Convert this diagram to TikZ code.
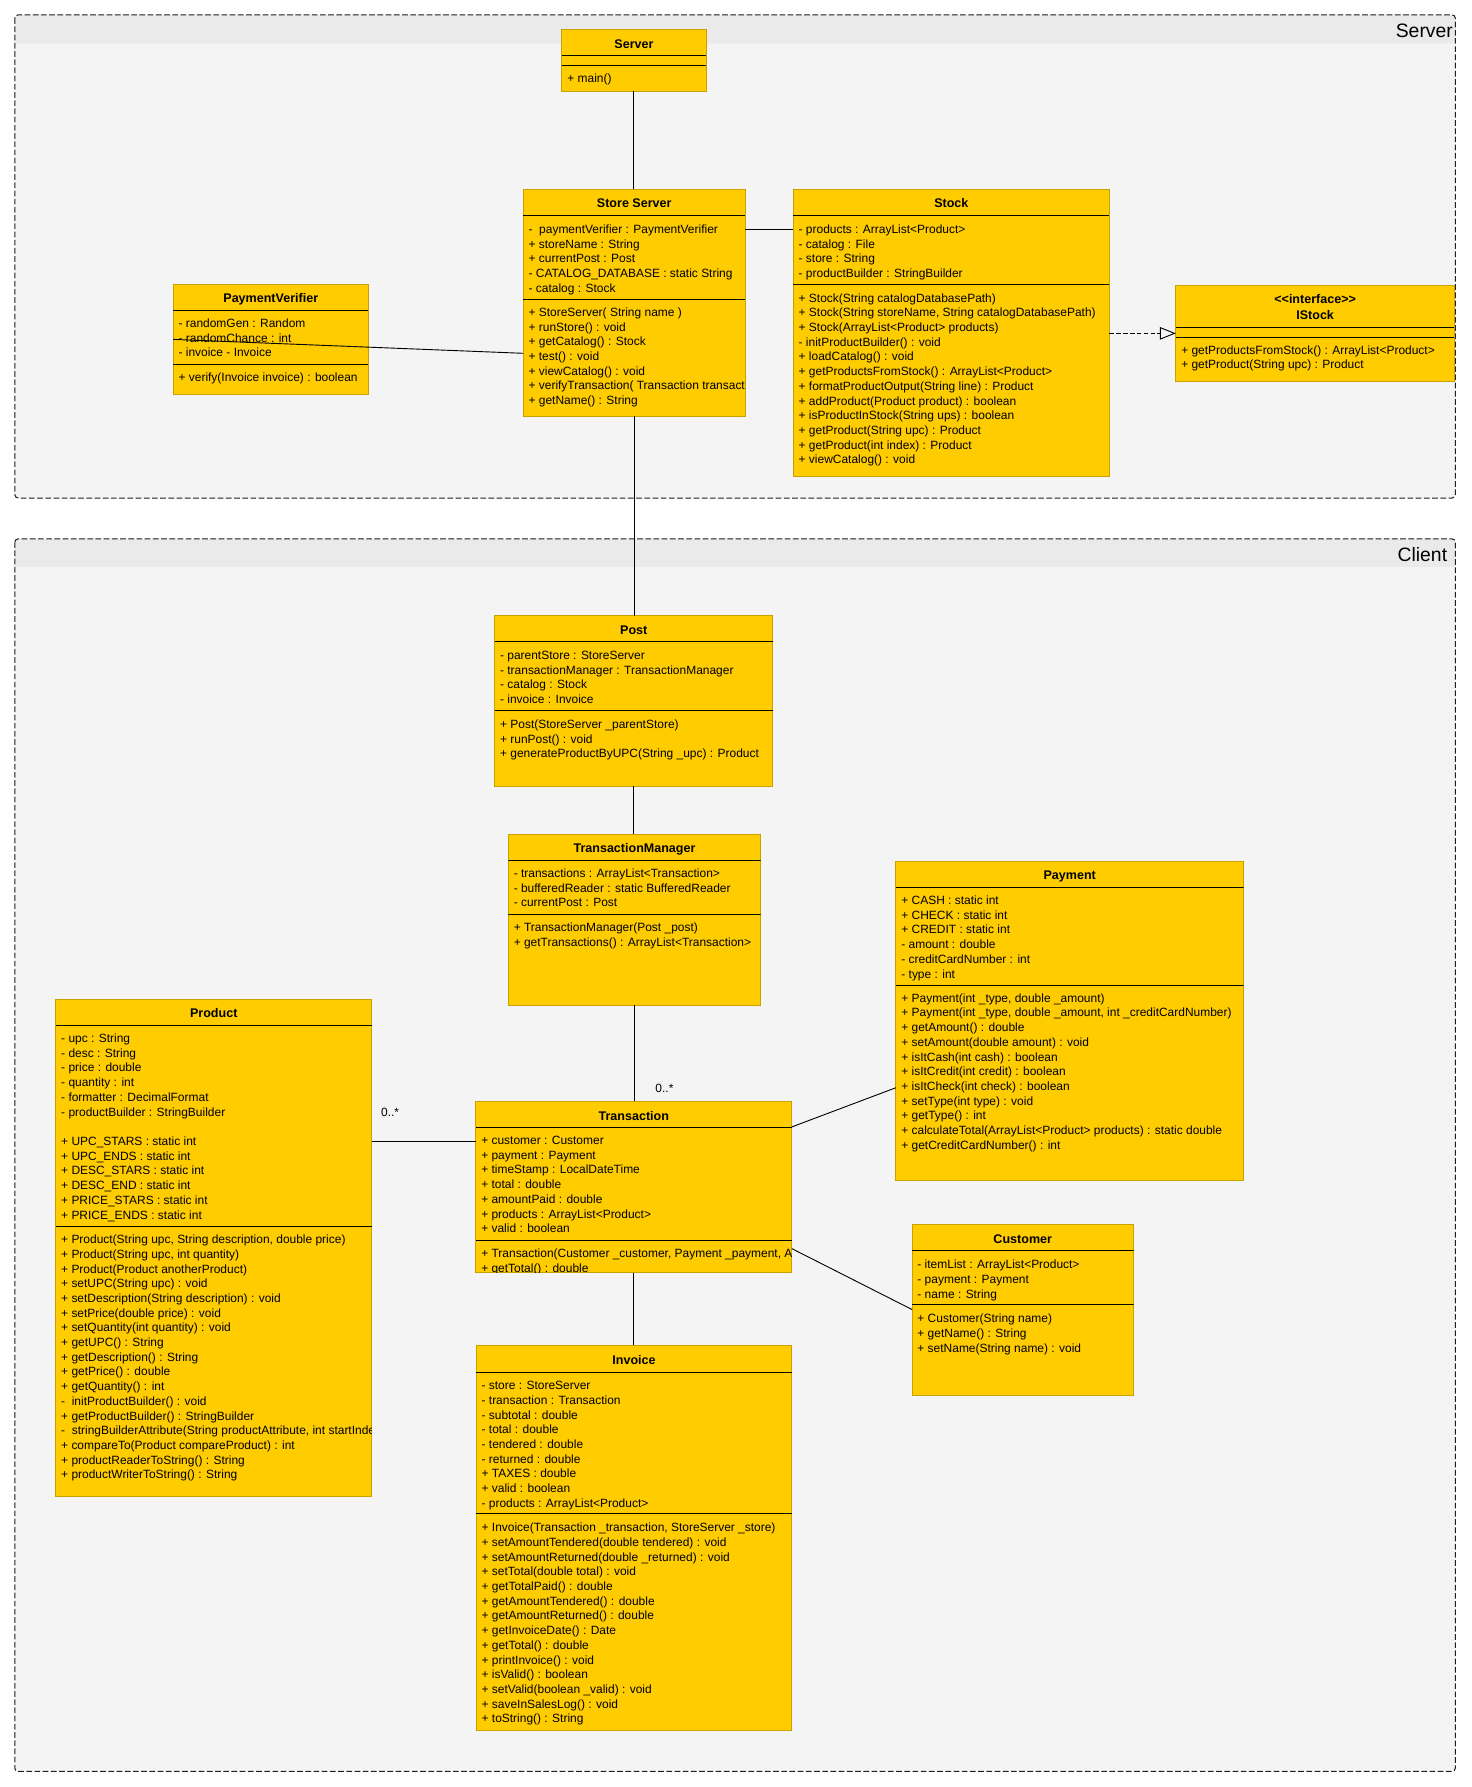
\documentclass[tikz,border=0pt]{standalone}
\usepackage{fontspec}
\setmainfont{Liberation Sans}
\usetikzlibrary{arrows.meta,calc}

\definecolor{boxfill}{HTML}{FFCC00}
\definecolor{boxedge}{HTML}{C9A200}
\definecolor{pkgfill}{HTML}{F4F4F4}
\definecolor{pkghead}{HTML}{EAEAEA}
\definecolor{pkgedge}{HTML}{1E1E1E}

\tikzset{
  classbox/.style={anchor=north west, fill=boxfill, draw=boxedge, line width=0.8pt, inner sep=0pt, outer sep=0pt},
  sepline/.style={draw=black, line width=0.9pt},
  rowtext/.style={anchor=base west, inner sep=0pt, xshift=4.6pt, yshift=-3.8pt, font=\fontsize{10.5}{12.9}\selectfont},
  titletext/.style={anchor=base, inner sep=0pt, yshift=-3.95pt, font=\fontsize{11}{13}\selectfont\bfseries},
  pkglabel/.style={anchor=east, inner sep=0pt, font=\fontsize{17}{20}\selectfont},
  package/.style={anchor=north west, inner sep=0pt, outer sep=0pt, fill=pkgfill, rounded corners=3pt},
  pkgframe/.style={draw=pkgedge, line width=0.9pt, dash pattern=on 5pt off 2.2pt, rounded corners=3pt},
  assoc/.style={draw=black, line width=0.8pt},
  realize/.style={draw=black, line width=0.8pt, dash pattern=on 4pt off 2pt, -{Triangle[open, length=14pt, width=11pt]}},
  mult/.style={inner sep=0pt, anchor=center, font=\fontsize{10.5}{12}\selectfont},
}

% class rectangle: name, left, top, width, height
\newcommand\umlbox[5]{\node[classbox, minimum width=#4pt, minimum height=#5pt] (#1) at (#2,#3) {};}
% compartment separator of a class at a given height
\newcommand\umlsep[2]{\draw[sepline] (#1.west |- 0,#2) -- (#1.east |- 0,#2);}
% centred bold title of a class
\newcommand\umltitle[3]{\node[titletext] at (#1.north |- 0,#2) {#3};}
% rows of a compartment: name, centre of first row, list of rows
\newcommand\umlrows[3]{%
  \foreach \rtext [count=\i from 0] in {#3}{%
    \pgfmathsetmacro\rowy{#2+\i*12.9}%
    \node[rowtext] at (#1.west |- 0,\rowy) {\rtext};}}
\newcommand\clipto[1]{\clip (#1.south west) rectangle (#1.north east);}

\begin{document}
\begin{tikzpicture}[x=1pt, y=-1pt]
\fill[white] (0,0) rectangle (1291,1568);
\useasboundingbox (0,0) rectangle (1291,1568);

% ---------- packages ----------
\node[package, minimum width=1264pt, minimum height=424pt] (serverpkg) at (13,13) {};
\fill[pkghead] (13,38) {[rounded corners=3pt] -- (13,13) -- (1277,13)} -- (1277,38) -- cycle;
\draw[pkgframe] (serverpkg.north west) rectangle (serverpkg.south east);
\node[pkglabel] (serverlbl) at (1275,27.2) {Server};

\node[package, minimum width=1264pt, minimum height=1081.5pt] (clientpkg) at (13,472.8) {};
\fill[pkghead] (13,497.3) {[rounded corners=3pt] -- (13,472.8) -- (1277,472.8)} -- (1277,497.3) -- cycle;
\draw[pkgframe] (clientpkg.north west) rectangle (clientpkg.south east);
\node[pkglabel] (clientlbl) at (1270,486.5) {Client};

% ---------- Server ----------
\umlbox{server}{493}{25.7}{126.5}{54.5}
\begin{scope}\clipto{server}
  \umltitle{server}{38.3}{Server}
  \umlsep{server}{48.9}\umlsep{server}{57.3}
  \umlrows{server}{68.7}{{+ main()}}
\end{scope}

% ---------- Store Server ----------
\umlbox{ss}{459}{166}{195}{199}
\begin{scope}\clipto{ss}
  \umltitle{ss}{178.5}{Store Server}
  \umlsep{ss}{188.7}\umlsep{ss}{262.7}
  \umlrows{ss}{201}{{-\ \ paymentVerifier : PaymentVerifier},{+ storeName : String},{+ currentPost : Post},{- CATALOG\_DATABASE : static String},{- catalog : Stock}}
  \umlrows{ss}{273.8}{{+ StoreServer( String name )},{+ runStore() : void},{+ getCatalog() : Stock},{+ test() : void},{+ viewCatalog() : void},{+ verifyTransaction( Transaction transact},{+ getName() : String}}
\end{scope}

% ---------- Stock ----------
\umlbox{stock}{696}{166}{277.5}{252}
\begin{scope}\clipto{stock}
  \umltitle{stock}{178.3}{Stock}
  \umlsep{stock}{189}\umlsep{stock}{249.5}
  \umlrows{stock}{201}{{- products : ArrayList<Product>},{- catalog : File},{- store : String},{- productBuilder : StringBuilder}}
  \umlrows{stock}{261.3}{{+ Stock(String catalogDatabasePath)},{+ Stock(String storeName, String catalogDatabasePath)},{+ Stock(ArrayList<Product> products)},{- initProductBuilder() : void},{+ loadCatalog() : void},{+ getProductsFromStock() : ArrayList<Product>},{+ formatProductOutput(String line) : Product},{+ addProduct(Product product) : boolean},{+ isProductInStock(String ups) : boolean},{+ getProduct(String upc) : Product},{+ getProduct(int index) : Product},{+ viewCatalog() : void}}
\end{scope}

% ---------- IStock ----------
\umlbox{istock}{1031.7}{250.7}{244.5}{83.7}
\begin{scope}\clipto{istock}
  \umltitle{istock}{262.7}{<{}<interface>{}>}
  \umltitle{istock}{276.7}{IStock}
  \umlsep{istock}{287.6}\umlsep{istock}{296}
  \umlrows{istock}{307}{{+ getProductsFromStock() : ArrayList<Product>},{+ getProduct(String upc) : Product}}
\end{scope}

% ---------- PaymentVerifier ----------
\umlbox{pv}{151.9}{249.5}{171.4}{96.5}
\begin{scope}\clipto{pv}
  \umltitle{pv}{261.3}{PaymentVerifier}
  \umlsep{pv}{272.4}\umlsep{pv}{319.8}
  \umlrows{pv}{283.5}{{- randomGen : Random},{- randomChance : int},{- invoice - Invoice}}
  \umlrows{pv}{330.9}{{+ verify(Invoice invoice) : boolean}}
\end{scope}

% ---------- Post ----------
\umlbox{post}{434}{540.3}{244.2}{149.5}
\begin{scope}\clipto{post}
  \umltitle{post}{552.6}{Post}
  \umlsep{post}{563.2}\umlsep{post}{623.4}
  \umlrows{post}{574.9}{{- parentStore : StoreServer},{- transactionManager : TransactionManager},{- catalog : Stock},{- invoice : Invoice}}
  \umlrows{post}{635.4}{{+ Post(StoreServer \_parentStore)},{+ runPost() : void},{+ generateProductByUPC(String \_upc) : Product}}
\end{scope}

% ---------- TransactionManager ----------
\umlbox{tm}{446}{732.2}{221.5}{149.8}
\begin{scope}\clipto{tm}
  \umltitle{tm}{744}{TransactionManager}
  \umlsep{tm}{755}\umlsep{tm}{802.8}
  \umlrows{tm}{766.2}{{- transactions : ArrayList<Transaction>},{- bufferedReader : static BufferedReader},{- currentPost : Post}}
  \umlrows{tm}{813.6}{{+ TransactionManager(Post \_post)},{+ getTransactions() : ArrayList<Transaction>}}
\end{scope}

% ---------- Payment ----------
\umlbox{pay}{786.1}{755.7}{305.1}{279.9}
\begin{scope}\clipto{pay}
  \umltitle{pay}{768}{Payment}
  \umlsep{pay}{778.8}\umlsep{pay}{864.8}
  \umlrows{pay}{789.9}{{+ CASH : static int},{+ CHECK : static int},{+ CREDIT : static int},{- amount : double},{- creditCardNumber : int},{- type : int}}
  \umlrows{pay}{875.6}{{+ Payment(int \_type, double \_amount)},{+ Payment(int \_type, double \_amount, int \_creditCardNumber)},{+ getAmount() : double},{+ setAmount(double amount) : void},{+ isItCash(int cash) : boolean},{+ isItCredit(int credit) : boolean},{+ isItCheck(int check) : boolean},{+ setType(int type) : void},{+ getType() : int},{+ calculateTotal(ArrayList<Product> products) : static double},{+ getCreditCardNumber() : int}}
\end{scope}

% ---------- Product ----------
\umlbox{product}{48.9}{877}{277.3}{436}
\begin{scope}\clipto{product}
  \umltitle{product}{888.5}{Product}
  \umlsep{product}{899.9}\umlsep{product}{1076.6}
  \umlrows{product}{911}{{- upc : String},{- desc : String},{- price : double},{- quantity : int},{- formatter : DecimalFormat},{- productBuilder : StringBuilder},{},{+ UPC\_STARS : static int},{+ UPC\_ENDS : static int},{+ DESC\_STARS : static int},{+ DESC\_END : static int},{+ PRICE\_STARS : static int},{+ PRICE\_ENDS : static int}}
  \umlrows{product}{1087.4}{{+ Product(String upc, String description, double price)},{+ Product(String upc, int quantity)},{+ Product(Product anotherProduct)},{+ setUPC(String upc) : void},{+ setDescription(String description) : void},{+ setPrice(double price) : void},{+ setQuantity(int quantity) : void},{+ getUPC() : String},{+ getDescription() : String},{+ getPrice() : double},{+ getQuantity() : int},{-\ \ initProductBuilder() : void},{+ getProductBuilder() : StringBuilder},{-\ \ stringBuilderAttribute(String productAttribute, int startInde},{+ compareTo(Product compareProduct) : int},{+ productReaderToString() : String},{+ productWriterToString() : String}}
\end{scope}

% ---------- Transaction ----------
\umlbox{tr}{417.5}{966.3}{277.3}{150.4}
\begin{scope}\clipto{tr}
  \umltitle{tr}{978.9}{Transaction}
  \umlsep{tr}{989.1}\umlsep{tr}{1088.6}
  \umlrows{tr}{1000.5}{{+ customer : Customer},{+ payment : Payment},{+ timeStamp : LocalDateTime},{+ total : double},{+ amountPaid : double},{+ products : ArrayList<Product>},{+ valid : boolean}}
  \umlrows{tr}{1099.7}{{+ Transaction(Customer \_customer, Payment \_payment, A},{+ getTotal() : double}}
\end{scope}

% ---------- Customer ----------
\umlbox{cust}{800.2}{1074.5}{194.4}{149.8}
\begin{scope}\clipto{cust}
  \umltitle{cust}{1087.1}{Customer}
  \umlsep{cust}{1097.6}\umlsep{cust}{1144.8}
  \umlrows{cust}{1109.4}{{- itemList : ArrayList<Product>},{- payment : Payment},{- name : String}}
  \umlrows{cust}{1156.8}{{+ Customer(String name)},{+ getName() : String},{+ setName(String name) : void}}
\end{scope}

% ---------- Invoice ----------
\umlbox{inv}{417.8}{1180.4}{277}{338}
\begin{scope}\clipto{inv}
  \umltitle{inv}{1193.3}{Invoice}
  \umlsep{inv}{1203.9}\umlsep{inv}{1328.2}
  \umlrows{inv}{1215.6}{{- store : StoreServer},{- transaction : Transaction},{- subtotal : double},{- total : double},{- tendered : double},{- returned : double},{+ TAXES : double},{+ valid : boolean},{- products : ArrayList<Product>}}
  \umlrows{inv}{1340.2}{{+ Invoice(Transaction \_transaction, StoreServer \_store)},{+ setAmountTendered(double tendered) : void},{+ setAmountReturned(double \_returned) : void},{+ setTotal(double total) : void},{+ getTotalPaid() : double},{+ getAmountTendered() : double},{+ getAmountReturned() : double},{+ getInvoiceDate() : Date},{+ getTotal() : double},{+ printInvoice() : void},{+ isValid() : boolean},{+ setValid(boolean \_valid) : void},{+ saveInSalesLog() : void},{+ toString() : String}}
\end{scope}

% ---------- connectors ----------
\draw[assoc] (server.south) -- (server.south |- ss.north);
\draw[assoc] (ss.east |- 0,201.3) -- (stock.west |- 0,201.3);
\draw[assoc] (pv.west |- 0,297.8) -- (ss.west |- 0,310);
\draw[realize] (stock.east |- 0,292.5) -- (istock.west |- 0,292.5);
\draw[assoc] (ss.south) -- (ss.south |- post.north);
\draw[assoc] (post.south) -- (post.south |- tm.north);
\draw[assoc] (tm.south) -- (tm.south |- tr.north);
\draw[assoc] (product.east |- 0,1001.7) -- (tr.west |- 0,1001.7);
\draw[assoc] (tr.east |- 0,988.8) -- (pay.west |- 0,954.4);
\draw[assoc] (tr.east |- 0,1095.6) -- (cust.west |- 0,1149);
\draw[assoc] (tr.south) -- (tr.south |- inv.north);

\node[mult] (multtm) at (583,954.6) {0..*};
\node[mult] (multprod) at (342.3,975.7) {0..*};
\end{tikzpicture}
\end{document}
